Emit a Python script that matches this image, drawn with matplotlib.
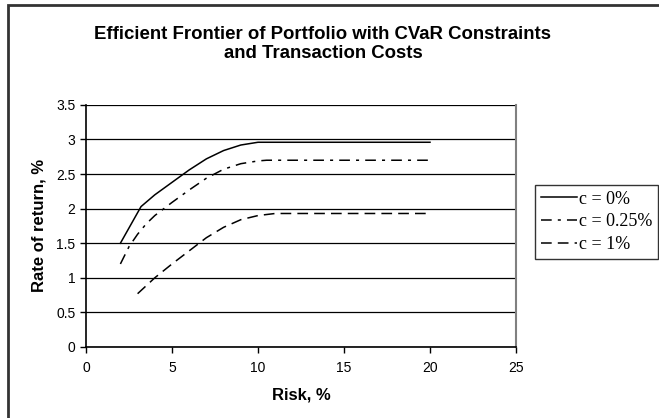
import matplotlib
matplotlib.use("Agg")
import matplotlib.pyplot as plt
from matplotlib.patches import Rectangle

# risk (%) and rate of return (%) for each transaction cost level
risk_c0 = [2.0, 3.2, 4.0, 5.0, 6.0, 7.0, 8.0, 9.0, 10.0, 11.0, 20.0]
ret_c0 = [1.50, 2.03, 2.20, 2.38, 2.56, 2.72, 2.84, 2.92, 2.96, 2.96, 2.96]

risk_c025 = [2.0, 2.5, 3.0, 3.5, 4.0, 5.0, 6.0, 7.0, 8.0, 9.0, 10.0, 10.5, 20.0]
ret_c025 = [1.20, 1.45, 1.63, 1.78, 1.90, 2.09, 2.27, 2.44, 2.57, 2.65, 2.69, 2.70, 2.70]

risk_c1 = [3.0, 4.0, 5.0, 6.0, 7.0, 8.0, 9.0, 10.0, 11.0, 20.0]
ret_c1 = [0.77, 1.00, 1.20, 1.39, 1.58, 1.73, 1.84, 1.90, 1.93, 1.93]

labels = ["c = 0%", "c = 0.25%", "c = 1%"]
xticks = [0, 5, 10, 15, 20, 25]
yticks = [0, 0.5, 1, 1.5, 2, 2.5, 3, 3.5]

plt.rcParams['font.family'] = ['Liberation Sans', 'DejaVu Sans']

fig = plt.figure(figsize=(6.59, 4.18), dpi=100)
ax = fig.add_axes([0.1305, 0.170, 0.6525, 0.579])

ax.plot(risk_c0, ret_c0, color='black', lw=1.1, linestyle='-', label=labels[0])
ax.plot(risk_c025, ret_c025, color='black', lw=1.1, linestyle=(0, (7, 4, 2, 4)), label=labels[1])
ax.plot(risk_c1, ret_c1, color='black', lw=1.1, linestyle=(0, (7, 4)), label=labels[2])

ax.set_xlim(0, 25)
ax.set_ylim(0, 3.5)
ax.set_xticks(xticks)
ax.set_yticks(yticks)
ax.set_yticklabels([f"{t:g}" for t in yticks])
ax.tick_params(direction='out', length=4, width=1, labelsize=10, color='black')
ax.tick_params(axis='x', pad=6)
ax.grid(axis='y', color='black', lw=0.9)
ax.set_axisbelow(True)

ax.spines['top'].set_visible(False)
ax.spines['right'].set_color('#808080')
ax.spines['right'].set_linewidth(1.5)
ax.spines['left'].set_linewidth(1.2)
ax.spines['bottom'].set_linewidth(1.2)

ax.set_xlabel("Risk, %", fontsize=12, fontweight='bold', labelpad=9)
ax.set_ylabel("Rate of return, %", fontsize=12, fontweight='bold', labelpad=7)

fig.text(0.49, 0.895, "Efficient Frontier of Portfolio with CVaR Constraints\nand Transaction Costs",
         ha='center', va='center', fontsize=13.4, fontweight='bold', linespacing=1.1)

leg = ax.legend(loc='upper left', bbox_to_anchor=(0.812, 0.557), bbox_transform=fig.transFigure,
                prop={'family': 'Liberation Serif', 'size': 13}, frameon=True, fancybox=False,
                handlelength=2.0, handletextpad=0.15, borderpad=0.3, labelspacing=0.32,
                borderaxespad=0)
leg.get_frame().set_edgecolor('black')
leg.get_frame().set_linewidth(1.0)

# outer chart frame
fig.patches.append(Rectangle((8 / 659, -0.05), 1.2, 1.0 - 5 / 418 + 0.05, transform=fig.transFigure,
                             fill=False, edgecolor='#333333', lw=2.0))

fig.savefig("out.png", dpi=100)
